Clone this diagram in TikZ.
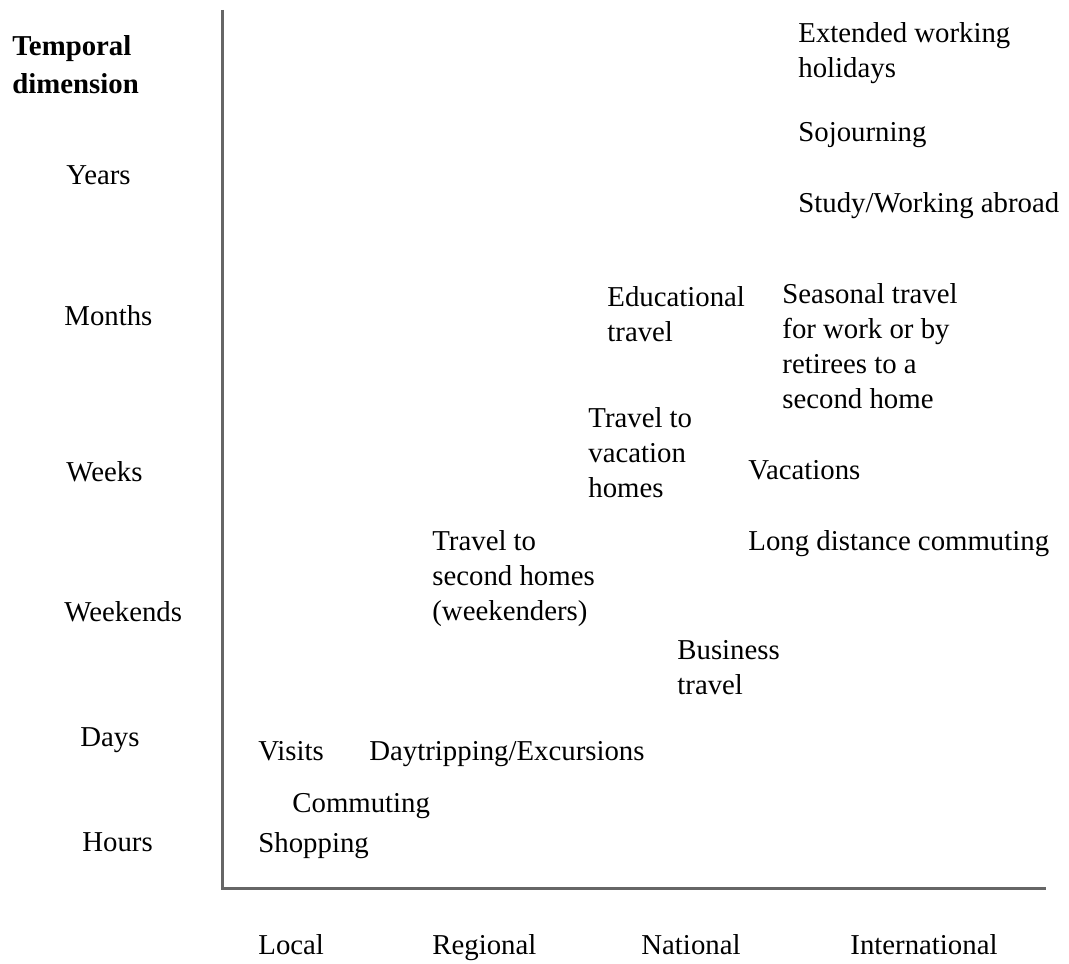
\documentclass[tikz,border=0pt]{standalone}
\usepackage{fontspec}
\setmainfont{Liberation Serif}
\usetikzlibrary{positioning}

\begin{document}
\begin{tikzpicture}[x=0.5pt, y=-0.5pt,
    every node/.style={inner sep=0pt, anchor=base west, align=left,
        font=\fontsize{14.4}{17.5}\selectfont},
    axisline/.style={draw=black!60, line width=1.5pt}]
    \useasboundingbox (0,0) rectangle (1069,963);
    % axes
    \coordinate (top) at (222, 10);
    \coordinate (origin) at (222, 888);
    \coordinate (right) at (1046, 888);
    \draw[axisline] (top) -- (origin) -- (right);
    % temporal scale
    \node[font=\fontsize{14.4}{19}\selectfont\bfseries] (tdim) at (12, 94) {Temporal\\dimension};
    \node (years) at (66, 184) {Years};
    \node (months) at (64, 325) {Months};
    \node (weeks) at (66, 481) {Weeks};
    \node (weekends) at (64, 621) {Weekends};
    \node (days) at (80, 746) {Days};
    \node (hours) at (82, 851) {Hours};
    % spatial scale
    \node (local) at (258, 954) {Local};
    \node (regional) at (432, 954) {Regional};
    \node (national) at (641, 954) {National};
    \node (international) at (850, 954) {International};
    % forms of mobility
    \node (extended) at (798, 78) {Extended working\\holidays};
    \node (sojourn) at (798, 141) {Sojourning};
    \node (study) at (798, 212) {Study/Working abroad};
    \node (edu) at (607, 341) {Educational\\travel};
    \node (seasonal) at (782, 408) {Seasonal travel\\for work or by\\retirees to a\\second home};
    \node (vachomes) at (588, 497) {Travel to\\vacation\\homes};
    \node (vacations) at (748, 479) {Vacations};
    \node (ldc) at (748, 550) {Long distance commuting};
    \node (second) at (432, 620) {Travel to\\second homes\\(weekenders)};
    \node (business) at (677, 694) {Business\\travel};
    \node (visits) at (258, 760) {Visits};
    \node (daytrip) at (369, 760) {Daytripping/Excursions};
    \node (commuting) at (292, 812) {Commuting};
    \node (shopping) at (258, 852) {Shopping};
\end{tikzpicture}
\end{document}
